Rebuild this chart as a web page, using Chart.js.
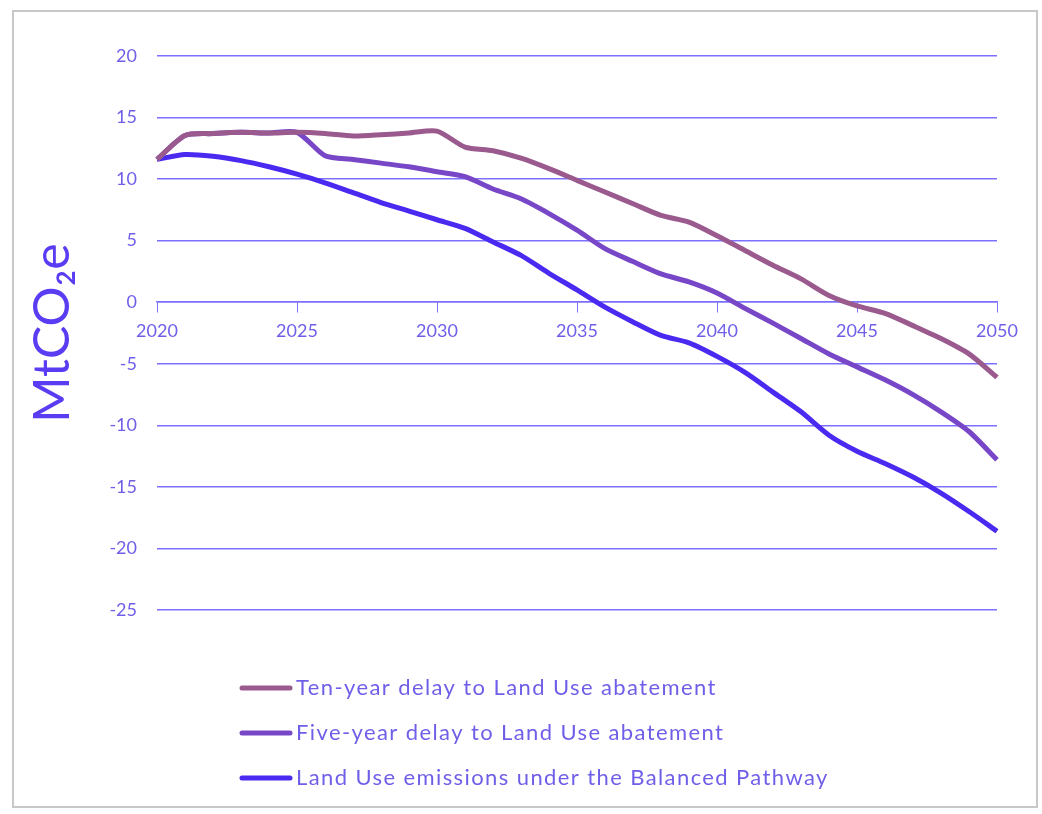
<!DOCTYPE html>
<html>
<head>
<meta charset="utf-8">
<script src="https://cdn.jsdelivr.net/npm/chart.js@4.4.1/dist/chart.umd.min.js"></script>
<style>
  html, body { margin: 0; padding: 0; background: #fff; }
  #wrap { width: 1042px; height: 814px; position: relative; }
</style>
</head>
<body>
<div id="wrap"><canvas id="landuse-chart"></canvas></div>
<script>
// Years along the x axis
const years = [];
for (let y = 2020; y <= 2050; y++) years.push(y);

// MtCO2e values
const tenYearDelay = [11.6, 13.55, 13.7, 13.8, 13.75, 13.8, 13.7, 13.5, 13.6, 13.75, 13.9,
  12.6, 12.3, 11.7, 10.85, 9.9, 8.95, 8.0, 7.05, 6.5, 5.4,
  4.2, 3.0, 1.9, 0.55, -0.3, -0.9, -1.9, -2.95, -4.2, -6.1];
const fiveYearDelay = [11.6, 13.55, 13.7, 13.8, 13.75, 13.8, 11.9, 11.6, 11.3, 11.0, 10.6,
  10.2, 9.2, 8.4, 7.2, 5.85, 4.35, 3.3, 2.3, 1.65, 0.75,
  -0.5, -1.7, -2.95, -4.2, -5.25, -6.3, -7.5, -8.9, -10.5, -12.8];
const balancedPathway = [11.6, 12.0, 11.85, 11.5, 11.0, 10.4, 9.7, 8.9, 8.1, 7.4, 6.7,
  6.0, 4.9, 3.8, 2.35, 1.0, -0.4, -1.6, -2.7, -3.3, -4.4,
  -5.7, -7.3, -8.9, -10.8, -12.1, -13.1, -14.2, -15.5, -17.0, -18.6];

const seriesLabels = [
  'Ten-year delay to Land Use abatement',
  'Five-year delay to Land Use abatement',
  'Land Use emissions under the Balanced Pathway'
];
const seriesColors = ['#9a5a8e', '#7847c8', '#4a2af0'];

const textColor = '#6f5fe8';
const gridColor = '#7b70ff';
const fontFamily = "Lato, 'Open Sans', sans-serif";

// Grey frame round the whole figure
const framePlugin = {
  id: 'frame',
  beforeDraw(chart) {
    const ctx = chart.ctx;
    ctx.save();
    ctx.strokeStyle = '#c8c8c8';
    ctx.lineWidth = 2;
    ctx.strokeRect(13, 11, 1024, 796);
    ctx.restore();
  }
};

// Legend stacked one item per row under the plot
const stackedLegend = {
  id: 'stackedLegend',
  afterDraw(chart) {
    const ctx = chart.ctx;
    ctx.save();
    ctx.font = `22px ${fontFamily}`;
    ctx.letterSpacing = '1.4px';
    ctx.textBaseline = 'middle';
    chart.data.datasets.forEach((ds, i) => {
      const y = 688 + i * 45;
      ctx.strokeStyle = ds.borderColor;
      ctx.lineWidth = 5;
      ctx.lineCap = 'round';
      ctx.beginPath();
      ctx.moveTo(242, y);
      ctx.lineTo(290, y);
      ctx.stroke();
      ctx.fillStyle = textColor;
      ctx.fillText(ds.label, 296, y);
    });
    ctx.restore();
  }
};

const datasets = [tenYearDelay, fiveYearDelay, balancedPathway].map((values, i) => ({
  label: seriesLabels[i],
  data: values,
  borderColor: seriesColors[i],
  backgroundColor: seriesColors[i],
  borderWidth: 5,
  pointRadius: 0,
  tension: 0.25,
  fill: false
}));

new Chart(document.getElementById('landuse-chart'), {
  type: 'line',
  data: { labels: years, datasets },
  options: {
    responsive: true,
    maintainAspectRatio: false,
    animation: false,
    layout: { padding: { left: 20, top: 56, right: 45, bottom: 204 } },
    plugins: {
      legend: { display: false },
      tooltip: { enabled: false }
    },
    scales: {
      x: {
        position: { y: 0 },
        grid: {
          drawOnChartArea: false,
          drawTicks: true,
          tickLength: 10,
          color: gridColor
        },
        border: { display: true, color: gridColor, width: 1.5 },
        ticks: {
          autoSkip: false,
          maxRotation: 0,
          color: textColor,
          padding: 8,
          font: { family: fontFamily, size: 18 },
          callback: function (val) {
            const yr = this.getLabelForValue(val);
            return yr % 5 === 0 ? String(yr) : null;
          }
        }
      },
      y: {
        min: -25,
        max: 20,
        afterFit(scale) { scale.width = 137; },
        grid: { color: gridColor, lineWidth: 1.5, drawTicks: false },
        border: { display: false },
        ticks: {
          stepSize: 5,
          color: textColor,
          padding: 20,
          font: { family: fontFamily, size: 18 }
        },
        title: {
          display: true,
          text: 'MtCO₂e',
          color: '#5a3cf2',
          padding: { top: 3, bottom: 0 },
          font: { family: fontFamily, size: 50 }
        }
      }
    }
  },
  plugins: [framePlugin, stackedLegend]
});
</script>
</body>
</html>
